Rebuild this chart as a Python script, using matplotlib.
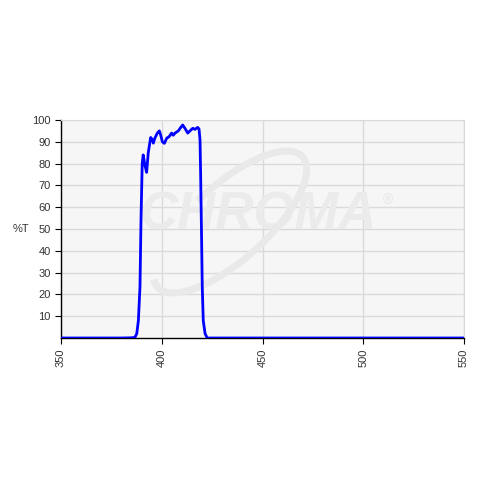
import numpy as np
import matplotlib.pyplot as plt
from matplotlib.patches import Arc
from matplotlib.transforms import IdentityTransform

# wavelength (nm) and transmission (%T)
wavelength = [350, 380, 385, 386.7, 387.6, 388.4, 389.2, 389.7, 390.3, 390.8,
              391.7, 392.5, 393.3, 394.5, 395.3, 395.8, 396.6, 397.8, 398.8,
              399.5, 400.3, 401.3, 402.5, 403.6, 404.9, 405.7, 406.6, 408.2,
              409.1, 410.4, 411.5, 412.9, 414.0, 415.4, 416.5, 417.8, 418.5,
              419.0, 419.3, 419.7, 420.1, 420.6, 421.5, 422.6, 425, 450, 500, 550]
transmission = [0, 0, 0.1, 0.3, 2, 8, 23.5, 54, 80, 84,
                79, 76, 85, 92, 91, 89.4, 91.7, 94, 95,
                93, 90, 89.3, 91.7, 92.3, 94, 93, 94, 95,
                96.2, 97.7, 96.2, 94, 95, 96.2, 95.7, 96.6, 95.9,
                90.8, 75, 50, 23.5, 8, 2, 0, 0, 0, 0, 0]

x_ticks = [350, 400, 450, 500, 550]
y_ticks = [10, 20, 30, 40, 50, 60, 70, 80, 90, 100]

plt.rcParams['font.family'] = ['Liberation Sans', 'DejaVu Sans']

fig = plt.figure(figsize=(4.8, 4.8), dpi=100)
ax = fig.add_axes([61/480, 1-338/480, 403/480, 218/480])
ax.set_facecolor('#f6f6f6')

# faint watermark
ax.text(0.49, 0.56, 'CHROMA', transform=ax.transAxes, ha='center', va='center',
        fontsize=38, fontstyle='italic', fontweight='bold', color='#ebebeb', zorder=1)
ax.text(0.81, 0.635, '\u00ae', transform=ax.transAxes, ha='center', va='center',
        fontsize=10, color='#e6e6e6', zorder=1)
swoosh = Arc((230, 258), 195, 75, angle=42, theta1=175, theta2=465,
             transform=IdentityTransform(), color='#e9e9e9', lw=5, zorder=1)
ax.add_artist(swoosh)

ax.plot(wavelength, transmission, color='#0000ff', lw=2, zorder=3)

ax.set_xlim(350, 550)
ax.set_ylim(0, 100)
ax.set_xticks(x_ticks)
ax.set_yticks(y_ticks)
ax.set_xticklabels([str(v) for v in x_ticks], rotation=90, fontsize=8, color='#333333')
ax.set_yticklabels([str(v) for v in y_ticks], fontsize=8, color='#333333')
ax.grid(True, color='#dadada', lw=1, zorder=0)
ax.set_axisbelow(True)
ax.tick_params(direction='out', length=4, width=0.8, color='black')

for s in ['top', 'right']:
    ax.spines[s].set_color('#dadada')
for s in ['left', 'bottom']:
    ax.spines[s].set_color('black')
    ax.spines[s].set_linewidth(1)

ax.set_ylabel('%T', rotation=0, fontsize=8, color='#333333', labelpad=8, va='center')

fig.savefig('out.png', dpi=100)
